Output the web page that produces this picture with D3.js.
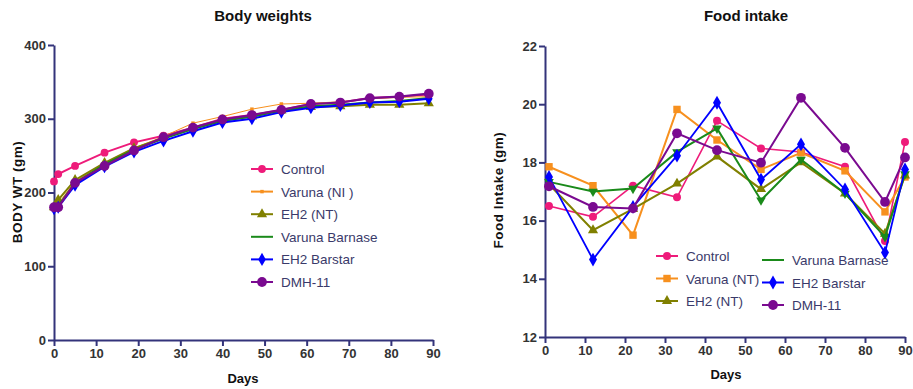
<!DOCTYPE html>
<html lang="en">
<head>
<meta charset="utf-8">
<title>Body weights and food intake</title>
<style>
  html, body { margin: 0; padding: 0; background: #fff; }
  svg { display: block; font-family: Arial, "Liberation Sans", sans-serif; }
  .tick text { font-family: "Liberation Sans Narrow", "Arial Narrow", Arial, sans-serif; font-weight: bold; font-size: 13px; fill: #333; }
  .axis path, .axis line { stroke: #33337a; stroke-width: 2; }
  .title, .alabel { font-weight: bold; fill: #111; }
  .legend text { font-size: 13.5px; fill: #3a3a6a; }
</style>
</head>
<body>
<svg width="913" height="389"></svg>
<script src="https://cdn.jsdelivr.net/npm/d3@7"></script>
<script>
// ---- data ----
var seriesNames = ["Control", "Varuna (NT)", "EH2 (NT)", "Varuna Barnase", "EH2 Barstar", "DMH-11"];
var leftLegendNames = ["Control", "Varuna (NI )", "EH2 (NT)", "Varuna Barnase", "EH2 Barstar", "DMH-11"];
var colors = ["#ee1b7a", "#f7901e", "#808000", "#1a8a1a", "#0000ff", "#7a0a90"];

var bwDays = [0, 1, 5, 12, 19, 26, 33, 40, 47, 54, 61, 68, 75, 82, 89];
var bwControl = [215, 225, 236, 254, 268, 277, 288, 300, 305, 312, 320, 322, 328, 330, 333];
var bwVaruna  = [180, 185, 215, 240, 260, 276, 294, 303, 313, 320, 321, 323, 327, 329, 330];
var bwEH2     = [180, 190, 217, 240, 260, 274, 287, 298, 303, 311, 316, 317, 319, 319, 321];
var bwBarnase = [180, 182, 213, 238, 258, 273, 286, 297, 303, 311, 317, 319, 322, 324, 328];
var bwBarstar = [178, 180, 210, 235, 255, 270, 283, 295, 300, 309, 315, 318, 322, 323, 327];
var bwDMH     = [180, 180, 213, 236, 257, 275, 288, 299, 305, 312, 320, 322, 328, 330, 334];
var bwTicksX = [0, 10, 20, 30, 40, 50, 60, 70, 80, 90];
var bwTicksY = [0, 100, 200, 300, 400];

var fiDays = [1, 12, 22, 33, 43, 54, 64, 75, 85, 90];
var fiControl = [16.5, 16.13, 17.2, 16.8, 19.43, 18.48, 18.36, 17.85, 15.3, 18.7];
var fiVaruna  = [17.85, 17.2, 15.5, 19.82, 18.77, 17.76, 18.33, 17.71, 16.3, 17.5];
var fiEH2     = [17.25, 15.67, 16.4, 17.27, 18.2, 17.08, 18.0, 16.93, 15.55, 17.55];
var fiBarnase = [17.33, 17.0, 17.1, 18.36, 19.17, 16.7, 18.1, 16.93, 15.44, 17.6];
var fiBarstar = [17.5, 14.66, 16.47, 18.23, 20.05, 17.41, 18.62, 17.07, 14.9, 17.76];
var fiDMH     = [17.18, 16.47, 16.42, 19.0, 18.42, 17.99, 20.22, 18.5, 16.64, 18.17];
var fiTicksX = [0, 10, 20, 30, 40, 50, 60, 70, 80, 90];
var fiTicksY = [12, 14, 16, 18, 20, 22];

// ---- styles per series ----
var bwStyle = [
  {sym: d3.symbolCircle,   size: 48, w: 2},
  {sym: d3.symbolSquare,   size: 12, w: 1},
  {sym: d3.symbolTriangle, size: 45, w: 2},
  {sym: null,              size: 0,  w: 2},
  {sym: d3.symbolDiamond,  size: 50, w: 2},
  {sym: d3.symbolCircle,   size: 75, w: 2.2}
];
var fiStyle = [
  {sym: d3.symbolCircle,   size: 50, w: 1.6, rot: 0},
  {sym: d3.symbolSquare,   size: 55, w: 2,   rot: 0},
  {sym: d3.symbolTriangle, size: 45, w: 2,   rot: 0},
  {sym: d3.symbolTriangle, size: 40, w: 2,   rot: 180, noLegendSym: true},
  {sym: d3.symbolDiamond,  size: 55, w: 1.8, rot: 0},
  {sym: d3.symbolCircle,   size: 75, w: 2,   rot: 0}
];

var svg = d3.select("svg");

function drawChart(opt) {
  var x = d3.scaleLinear().domain([0, 90]).range([opt.x0, opt.x1]);
  var y = d3.scaleLinear().domain(opt.yDomain).range([opt.y0, opt.y1]);
  var g = svg.append("g");

  g.append("g").attr("class", "axis")
    .attr("transform", "translate(0," + opt.y0 + ")")
    .call(d3.axisBottom(x).tickValues(opt.ticksX).tickSize(6).tickSizeOuter(0).tickPadding(3));
  g.append("g").attr("class", "axis")
    .attr("transform", "translate(" + opt.x0 + ",0)")
    .call(d3.axisLeft(y).tickValues(opt.ticksY).tickSize(6).tickSizeOuter(0).tickPadding(2));

  var line = d3.line().x(function(d) { return x(d[0]); }).y(function(d) { return y(d[1]); });

  opt.series.forEach(function(vals, i) {
    var pts = opt.days.map(function(d, k) { return [d, vals[k]]; });
    var st = opt.style[i];
    g.append("path").datum(pts)
      .attr("fill", "none").attr("stroke", colors[i]).attr("stroke-width", st.w)
      .attr("d", line);
    if (st.sym) {
      g.selectAll(null).data(pts).enter().append("path")
        .attr("d", d3.symbol().type(st.sym).size(st.size))
        .attr("transform", function(d) { return "translate(" + x(d[0]) + "," + y(d[1]) + ") rotate(" + (st.rot || 0) + ")"; })
        .attr("fill", colors[i]);
    }
  });

  svg.append("text").attr("class", "title")
    .attr("x", opt.titleX).attr("y", 21).attr("text-anchor", "middle")
    .style("font-size", "15px").text(opt.title);
  svg.append("text").attr("class", "alabel")
    .attr("x", opt.daysX).attr("y", opt.daysY).attr("text-anchor", "middle")
    .style("font-size", "13px").text("Days");
  svg.append("text").attr("class", "alabel")
    .attr("transform", "translate(" + opt.ylabX + "," + opt.ylabY + ") rotate(-90)")
    .attr("text-anchor", "middle").style("font-size", "13.5px").style("letter-spacing", "0.5px")
    .text(opt.ylab);

  var lg = svg.append("g").attr("class", "legend");
  opt.legend.forEach(function(it, i) {
    var st = opt.style[i];
    var row = lg.append("g").attr("transform", "translate(" + it.x + "," + it.y + ")");
    row.append("line").attr("x1", -11).attr("x2", 11)
      .attr("stroke", colors[i]).attr("stroke-width", 2);
    if (st.sym && !st.noLegendSym) {
      row.append("path").attr("d", d3.symbol().type(st.sym).size(st.size))
        .attr("transform", "rotate(" + (st.rot || 0) + ")")
        .attr("fill", colors[i]);
    }
    row.append("text").attr("x", 19).attr("y", 5).text(it.name);
  });
}

// Body weights
drawChart({
  x0: 54, x1: 433, y0: 340, y1: 45, yDomain: [0, 400],
  ticksX: bwTicksX, ticksY: bwTicksY, days: bwDays,
  series: [bwControl, bwVaruna, bwEH2, bwBarnase, bwBarstar, bwDMH],
  style: bwStyle,
  title: "Body weights", titleX: 263,
  daysX: 243, daysY: 383, ylab: "BODY WT (gm)", ylabX: 22, ylabY: 192,
  legend: leftLegendNames.map(function(n, i) { return {name: n, x: 262, y: 169 + i * 22.6}; })
});

// Food intake
drawChart({
  x0: 545, x1: 905, y0: 337, y1: 46, yDomain: [12, 22],
  ticksX: fiTicksX, ticksY: fiTicksY, days: fiDays,
  series: [fiControl, fiVaruna, fiEH2, fiBarnase, fiBarstar, fiDMH],
  style: fiStyle,
  title: "Food intake", titleX: 746,
  daysX: 726, daysY: 379, ylab: "Food Intake (gm)", ylabX: 503, ylabY: 190,
  legend: seriesNames.map(function(n, i) {
    return i < 3 ? {name: n, x: 667, y: 256 + i * 22.5} : {name: n, x: 773, y: 260 + (i - 3) * 22.5};
  })
});
</script>
</body>
</html>
